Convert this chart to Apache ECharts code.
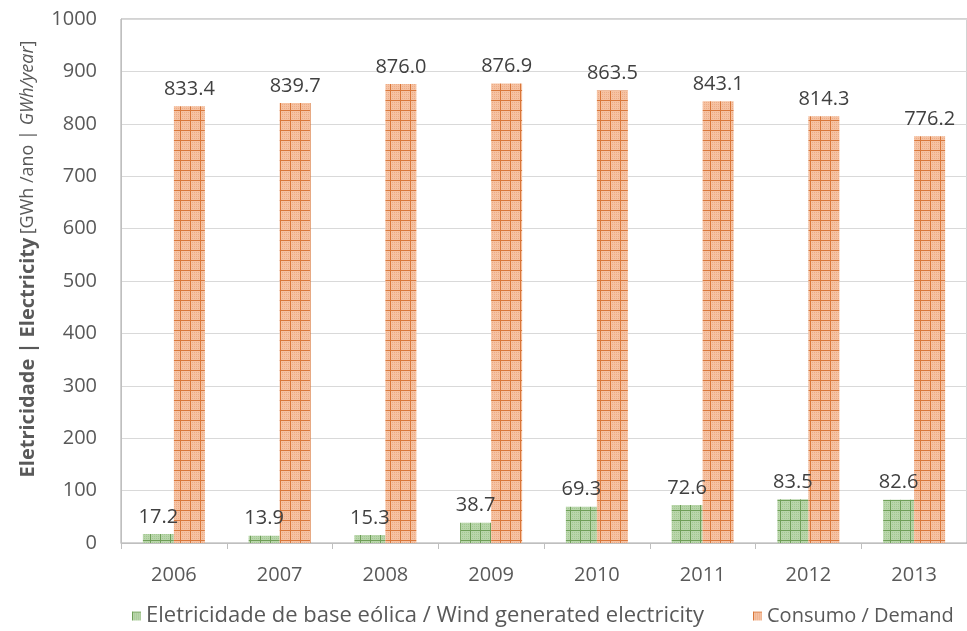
<!DOCTYPE html>
<html><head><meta charset="utf-8">
<script src="https://cdn.jsdelivr.net/npm/echarts@6/dist/echarts.min.js"></script>
<style>html,body{margin:0;padding:0;background:#fff}#c{width:967px;height:631px}</style>
</head><body><div id="c"></div>
<script>
const years = ['2006','2007','2008','2009','2010','2011','2012','2013'];
const windValues = [17.2, 13.9, 15.3, 38.7, 69.3, 72.6, 83.5, 82.6];
const demandValues = [833.4, 839.7, 876.0, 876.9, 863.5, 843.1, 814.3, 776.2];
const yTicks = [0,100,200,300,400,500,600,700,800,900,1000];
const seriesNames = ['Eletricidade de base eólica / Wind generated electricity', 'Consumo / Demand'];

function makePattern(base, dot, line){
  const s = 10;
  const c = document.createElement('canvas');
  c.width = s; c.height = s;
  const g = c.getContext('2d');
  g.fillStyle = base; g.fillRect(0,0,s,s);
  g.fillStyle = dot;
  for(let y=0;y<s;y++) for(let x=0;x<s;x++){ if((x+y)%2===0 && (x%2===0)) g.fillRect(x,y,1,1); }
  g.fillStyle = line;
  g.fillRect(0,0,s,1);
  g.fillRect(0,0,1,s);
  return {image:c, repeat:'repeat'};
}
const greenPat = makePattern('#b9d6ab','#a3c791','#6f9f58');
const orangePat = makePattern('#f6c2a2','#ecab86','#d9773a');

const FONT = '"Open Sans"';
const chart = echarts.init(document.getElementById('c'), null, {renderer:'canvas'});
const lbl = {show:true, position:'top', distance:7, color:'#404040', fontSize:20, fontFamily:FONT, formatter:p=>p.value.toFixed(1)};
chart.setOption({
  animation:false,
  textStyle:{fontFamily:FONT},
  grid:{left:121, top:19, width:856, height:524, show:true, borderColor:'#a6a6a6', borderWidth:1},
  graphic:[{
    type:'text', x:28, y:259, rotation:Math.PI/2, origin:[0,0],
    style:{
      text:'{b|Eletricidade | Electricity} {n|[GWh /ano | }{i|GWh/year}{n|]}',
      align:'center', verticalAlign:'middle',
      rich:{
        b:{fontFamily:FONT, fontWeight:'bold', fontSize:20, fill:'#595959'},
        n:{fontFamily:FONT, fontSize:18, fill:'#595959'},
        i:{fontFamily:FONT, fontSize:18, fontStyle:'italic', fill:'#595959'}
      }
    }
  }],
  legend:[
    {left:127, top:600, itemWidth:9, itemHeight:9, itemGap:10,
     textStyle:{color:'#595959', fontSize:22, fontFamily:FONT},
     data:[{name:seriesNames[0], icon:'rect'}]},
    {left:748, top:601, itemWidth:9, itemHeight:9, itemGap:10,
     textStyle:{color:'#595959', fontSize:20, fontFamily:FONT},
     data:[{name:seriesNames[1], icon:'rect'}]}
  ],
  xAxis:{
    type:'category', data:years,
    axisLine:{lineStyle:{color:'#bfbfbf'}},
    axisTick:{show:true, length:6, lineStyle:{color:'#bfbfbf'}},
    axisLabel:{color:'#595959', fontSize:20, margin:22, fontFamily:FONT}
  },
  yAxis:{
    type:'value', min:yTicks[0], max:yTicks[yTicks.length-1], interval:100,
    axisLine:{show:true, lineStyle:{color:'#bfbfbf'}},
    axisTick:{show:false},
    splitLine:{lineStyle:{color:'#d9d9d9'}},
    axisLabel:{color:'#595959', fontSize:20, margin:24, fontFamily:FONT, formatter:v=>String(v)}
  },
  series:[
    {name:seriesNames[0], type:'bar', data:windValues, barWidth:31, barGap:'0%', itemStyle:{color:greenPat}, label:lbl},
    {name:seriesNames[1], type:'bar', data:demandValues, barWidth:31, barGap:'0%', itemStyle:{color:orangePat}, label:lbl}
  ]
});
</script></body></html>
